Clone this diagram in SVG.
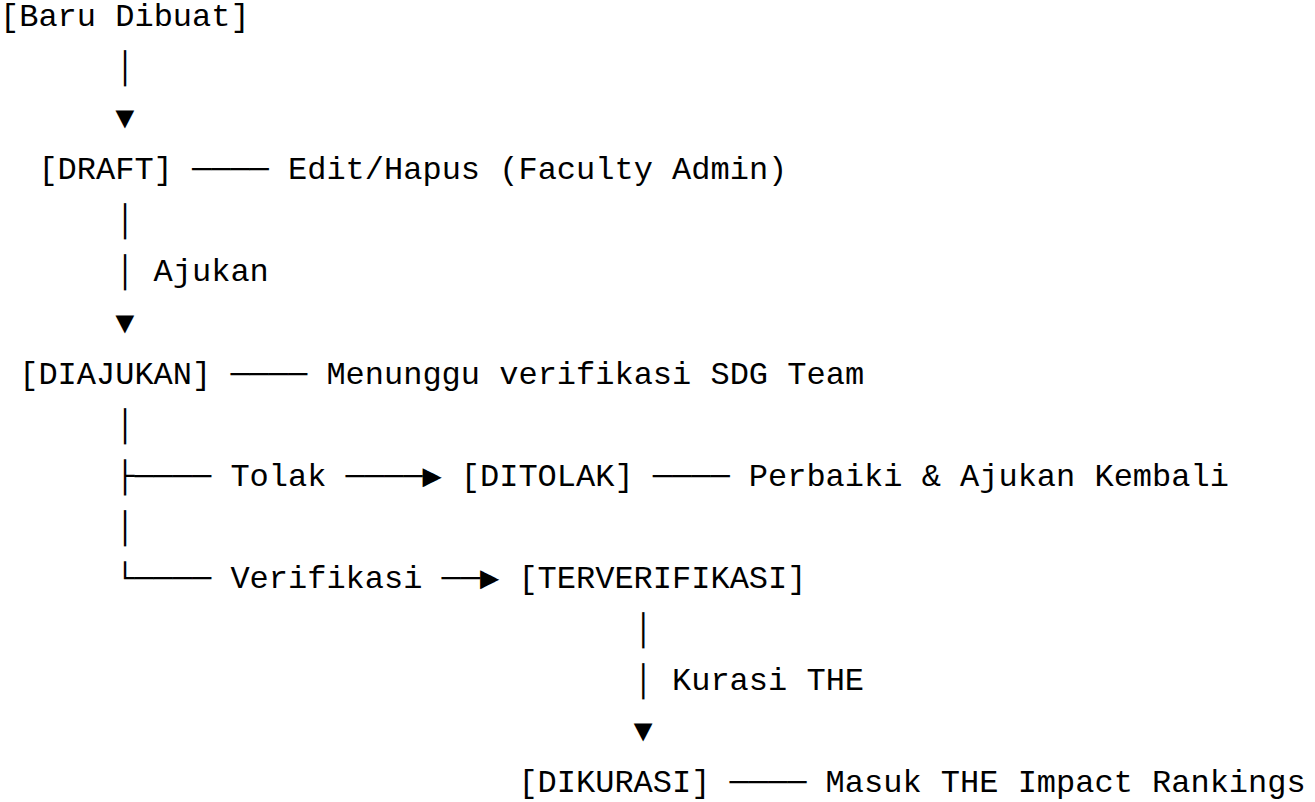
<svg xmlns="http://www.w3.org/2000/svg" width="1315" height="802" viewBox="0 0 1315 802">
<style>
text { font-family: "Liberation Mono", "Courier New", "DejaVu Sans Mono", monospace; font-size: 32px; fill: #000; white-space: pre; }
</style>
<rect width="1315" height="802" fill="#fff"/>
<g id="connectors">
<text x="115.2" y="77.25">│</text>
<text x="115.2" y="128.3">▼</text>
<text x="192" y="179.35">────</text>
<text x="115.2" y="230.4">│</text>
<text x="115.2" y="281.45">│</text>
<text x="115.2" y="332.5">▼</text>
<text x="230.4" y="383.55">────</text>
<text x="115.2" y="434.6">│</text>
<text x="115.2" y="485.65">├────</text>
<text x="345.6" y="485.65">────</text>
<text x="422.4" y="485.65">▶</text>
<text x="652.8" y="485.65">────</text>
<text x="115.2" y="536.7">│</text>
<text x="115.2" y="587.75">└────</text>
<text x="441.6" y="587.75">──</text>
<text x="480" y="587.75">▶</text>
<text x="633.6" y="638.8">│</text>
<text x="633.6" y="689.85">│</text>
<text x="633.6" y="740.9">▼</text>
<text x="729.6" y="791.95">────</text>
</g>
<g id="node-baru"><text x="0" y="26.2">[Baru Dibuat]</text></g>
<g id="node-draft"><text x="38.4" y="179.35">[DRAFT]</text><text x="288" y="179.35">Edit/Hapus (Faculty Admin)</text></g>
<g id="label-ajukan"><text x="153.6" y="281.45">Ajukan</text></g>
<g id="node-diajukan"><text x="19.2" y="383.55">[DIAJUKAN]</text><text x="326.4" y="383.55">Menunggu verifikasi SDG Team</text></g>
<g id="label-tolak"><text x="230.4" y="485.65">Tolak</text></g>
<g id="node-ditolak"><text x="460.8" y="485.65">[DITOLAK]</text><text x="748.8" y="485.65">Perbaiki &amp; Ajukan Kembali</text></g>
<g id="label-verifikasi"><text x="230.4" y="587.75">Verifikasi</text></g>
<g id="node-terverifikasi"><text x="518.4" y="587.75">[TERVERIFIKASI]</text></g>
<g id="label-kurasi"><text x="672" y="689.85">Kurasi THE</text></g>
<g id="node-dikurasi"><text x="518.4" y="791.95">[DIKURASI]</text><text x="825.6" y="791.95">Masuk THE Impact Rankings</text></g>
</svg>
